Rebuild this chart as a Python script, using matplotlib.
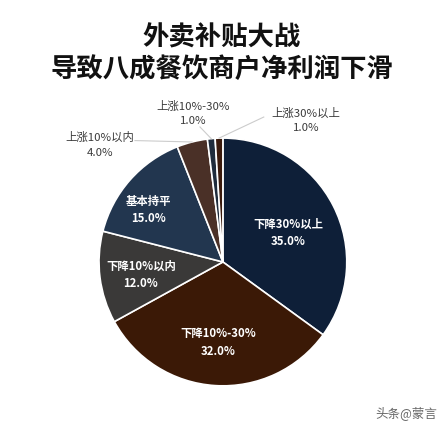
import numpy as np
import matplotlib
matplotlib.use("Agg")
import matplotlib.pyplot as plt

plt.rcParams['font.family'] = ['Noto Sans CJK SC', 'DejaVu Sans']

categories = ["下降30%以上", "下降10%-30%", "下降10%以内", "基本持平",
              "上涨10%以内", "上涨10%-30%", "上涨30%以上"]
values = [35.0, 32.0, 12.0, 15.0, 4.0, 1.0, 1.0]
colors = ["#0e1f38", "#3b1906", "#3a3938", "#22364f", "#4a3027", "#1f2c3c", "#3a1a0c"]
title_lines = ["外卖补贴大战", "导致八成餐饮商户净利润下滑"]
watermark = "头条@蒙言"

fig = plt.figure(figsize=(4.44, 4.44), dpi=100)
fig.patch.set_facecolor("white")
cx, cy, r = 0.502, 0.410, 0.279
ax = fig.add_axes([cx - r, cy - r, 2 * r, 2 * r])
wedges, _ = ax.pie(values, colors=colors, startangle=90, counterclock=False,
                   radius=1.0, wedgeprops=dict(edgecolor="white", linewidth=1.2))
ax.set_xlim(-1, 1)
ax.set_ylim(-1, 1)
ax.set_aspect("equal")
ax.axis("off")

# inside labels: (radius factor, angle offset in degrees)
inside = {0: (0.58, -3), 1: (0.65, 0), 2: (0.67, 2), 3: (0.735, 6.4)}
# outside labels: text position (x, y) in data units, elbow point
outside = {4: ((-0.99, 0.945), (-0.71, 0.98)),
           5: ((-0.24, 1.20), (-0.185, 1.09)),
           6: ((0.67, 1.14), (0.33, 1.17))}

for i, w in enumerate(wedges):
    mid = np.deg2rad((w.theta1 + w.theta2) / 2)
    pct = f"{values[i]:.1f}%"
    if i in inside:
        rf, off = inside[i]
        a = mid + np.deg2rad(off)
        x, y = rf * np.cos(a), rf * np.sin(a)
        ax.text(x, y, f"{categories[i]}\n{pct}", color="white", ha="center", va="center",
                fontsize=8.2, fontweight="bold", linespacing=1.45)
    else:
        (tx, ty), (ex, ey) = outside[i]
        px, py = np.cos(mid), np.sin(mid)
        ax.plot([px, ex], [py, ey], color="#cccccc", lw=0.8, clip_on=False)
        ax.text(tx, ty, f"{categories[i]}\n{pct}", color="#3a3a3a", ha="center", va="center",
                fontsize=8.2, linespacing=1.55, clip_on=False)

fig.text(0.5, 1 - 38 / 444, title_lines[0], ha="center", va="center",
         fontsize=19, fontweight="bold", color="#111111")
fig.text(0.5, 1 - 69 / 444, title_lines[1], ha="center", va="center",
         fontsize=19, fontweight="bold", color="#111111")
fig.text(375 / 444, 1 - 414 / 444, watermark, ha="left", va="center",
         fontsize=9, color="#666666")

fig.savefig("out.png", dpi=100, facecolor="white")
